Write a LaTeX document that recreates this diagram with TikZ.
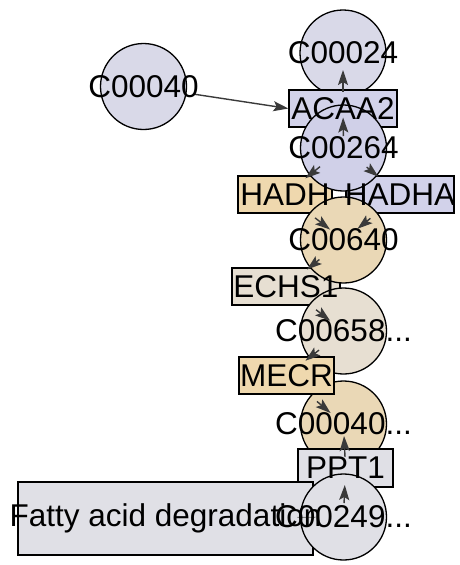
\documentclass[tikz,border=0pt]{standalone}
\usepackage{fontspec}
\setmainfont{Liberation Sans}
\usetikzlibrary{arrows.meta}
\definecolor{lavc}{HTML}{D9D9E8}
\definecolor{lavm}{HTML}{D0D0E8}
\definecolor{lavr}{HTML}{D2D2EA}
\definecolor{tanr}{HTML}{EFD8AE}
\definecolor{tanc}{HTML}{EAD8B6}
\definecolor{beige}{HTML}{E7DFD2}
\definecolor{greyf}{HTML}{E0E0E6}
\definecolor{arrowgray}{HTML}{3A3A3A}
\definecolor{linkgray}{HTML}{808080}
\begin{document}
\begin{tikzpicture}[x=1pt,y=-1pt,
  cnode/.style={circle,draw=black,line width=1.3pt,minimum size=86pt,inner sep=0pt},
  rnode/.style={rectangle,draw=black,line width=1.2pt,inner sep=0pt,minimum height=37pt},
  lbl/.style={font=\fontsize{31.5}{31.5}\selectfont,inner sep=0pt,text=black},
  arr/.style={draw=arrowgray,line width=1.4pt,-{Stealth[length=15pt,width=10pt,inset=3pt]}},
  link/.style={draw=linkgray,line width=1pt},
]
\useasboundingbox (0,0) rectangle (460,565);
% shapes in drawing order
\node[cnode,fill=lavc] (c40a) at (143.5,86.5) {};
\node[cnode,fill=lavc] (c24) at (343,53) {};
\node[rnode,fill=lavr,minimum width=108pt] (acaa2) at (343,108.5) {};
\node[rnode,fill=tanr,minimum width=94pt] (hadh) at (285,194.5) {};
\node[rnode,fill=lavr,minimum width=108pt] (hadha) at (400,194.5) {};
\node[cnode,fill=lavm] (c264) at (343.5,148) {};
\node[rnode,fill=beige,minimum width=108pt] (echs1) at (286,286.5) {};
\node[cnode,fill=tanc] (c640) at (343.5,240) {};
\node[cnode,fill=beige] (c658) at (343.5,331) {};
\node[cnode,fill=tanc] (c40b) at (343.5,424) {};
\node[rnode,fill=tanr,minimum width=95pt] (mecr) at (286.5,375.5) {};
\node[rnode,fill=greyf,minimum width=95pt,minimum height=38pt] (ppt1) at (345.5,468) {};
\node[rnode,fill=greyf,minimum width=295pt,minimum height=73pt] (fatty) at (165.5,518.5) {};
\node[cnode,fill=greyf] (c249) at (343.5,517) {};
% connectors
\draw[arr,shorten <=50pt] (c40a.center) -- (acaa2.west);
\draw[arr,shorten <=17pt,shorten >=17pt] (acaa2.center) -- (c24.center);
\draw[arr,shorten <=12pt,shorten >=9pt] (c264.center) -- (acaa2.center);
\draw[arr,shorten <=30pt,shorten >=26pt] (c264.center) -- (hadh.center);
\draw[arr,shorten <=30pt,shorten >=28pt] (c264.center) -- (hadha.center);
\draw[arr,shorten <=38pt,shorten >=17pt] (hadh.center) -- (c640.center);
\draw[arr,shorten <=38pt,shorten >=18pt] (hadha.center) -- (c640.center);
\draw[arr,shorten <=31pt,shorten >=27pt] (c640.center) -- (echs1.center);
\draw[arr,shorten <=38pt,shorten >=17pt] (echs1.center) -- (c658.center);
\draw[arr,shorten <=31pt,shorten >=24pt] (c658.center) -- (mecr.center);
\draw[arr,shorten <=40pt,shorten >=17pt] (mecr.center) -- (c40b.center);
\draw[arr,shorten <=11pt,shorten >=12pt] (ppt1.center) -- (c40b.center);
\draw[arr,shorten <=14pt,shorten >=17pt] (c249.center) -- (ppt1.center);
\draw[link,shorten <=28pt,shorten >=132pt] (c249.center) -- (fatty.center);
% labels
\node[lbl] (l40a) at (c40a.center) {C00040};
\node[lbl] (l24) at (c24.center) {C00024};
\node[lbl] (lacaa2) at (acaa2.center) {ACAA2};
\node[lbl] (lhadh) at (hadh.center) {HADH};
\node[lbl] (lhadha) at (hadha.center) {HADHA};
\node[lbl] (l264) at (c264.center) {C00264};
\node[lbl] (lechs1) at (echs1.center) {ECHS1};
\node[lbl] (l640) at (c640.center) {C00640};
\node[lbl] (l658) at (c658.center) {C00658...};
\node[lbl] (l40b) at (c40b.center) {C00040...};
\node[lbl] (lmecr) at (mecr.center) {MECR};
\node[lbl] (lppt1) at (ppt1.center) {PPT1};
\node[lbl] (lfatty) at (fatty.center) {Fatty acid degradation};
\node[lbl] (l249) at (c249.center) {C00249...};
\end{tikzpicture}
\end{document}
